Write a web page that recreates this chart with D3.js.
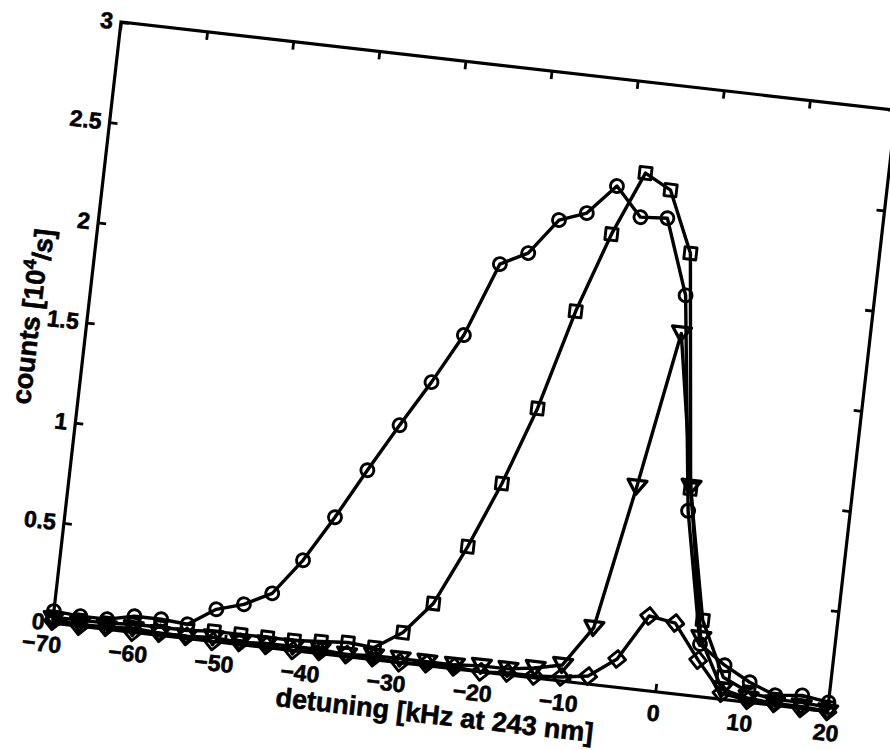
<!DOCTYPE html>
<html><head><meta charset="utf-8">
<script src="https://cdn.jsdelivr.net/npm/d3@7"></script>
<style>body{margin:0;background:#fff}</style>
</head><body>
<svg id="chart" width="890" height="750"></svg>
<script>
const detuning = [-70, -66.9, -63.8, -60.7, -57.6, -54.5, -51.4, -48.3, -45.2, -42.1, -39.0, -35.9, -32.8, -29.7, -26.6, -23.4, -20.3, -17.2, -14.1, -11.0, -7.9, -4.8, -1.7, 1.4, 4.5, 7.6, 10.7, 13.8, 16.9, 20.0];
const circles = [0.06, 0.05, 0.05, 0.08, 0.08, 0.07, 0.16, 0.20, 0.27, 0.45, 0.68, 0.93, 1.17, 1.40, 1.65, 2.02, 2.09, 2.27, 2.32, 2.47, 2.33, 2.34, 1.97, 0.91, 0.26, 0.17, 0.10, 0.05, 0.065, 0.045];
const squares = [0.03, 0.03, 0.03, 0.04, 0.04, 0.04, 0.05, 0.05, 0.05, 0.05, 0.06, 0.07, 0.06, 0.15, 0.31, 0.61, 0.94, 1.33, 1.83, 2.23, 2.55, 2.48, 2.18, 1.02, 0.38, 0.11, 0.05, 0.03, 0.03, 0.02];
const triangles = [0.02, 0.01, 0.01, 0.02, 0.01, 0.01, 0.02, 0.01, 0.02, 0.02, 0.02, 0.01, 0.02, 0.02, 0.02, 0.02, 0.03, 0.03, 0.05, 0.08, 0.28, 1.0, 1.78, 1.03, 0.29, 0.05, 0.02, 0.01, 0.01, 0.0];
const diamonds = [0.01, 0.0, 0.01, 0.0, 0.01, 0.01, 0.0, 0.01, 0.01, 0.0, 0.01, 0.01, 0.01, 0.0, 0.01, 0.01, 0.0, 0.01, 0.01, 0.02, 0.04, 0.14, 0.37, 0.35, 0.18, 0.03, 0.01, 0.01, 0.0, 0.0];
const xTicks = [-70, -60, -50, -40, -30, -20, -10, 0, 10, 20];
const yTicks = [0, 0.5, 1, 1.5, 2, 2.5, 3];

const W = 780, H = 605;
const FONT = "'Liberation Sans', Arial, Helvetica, sans-serif";
const svg = d3.select('#chart');
svg.append('rect').attr('width', 890).attr('height', 750).attr('fill', '#fff');
const g = svg.append('g').attr('transform', 'translate(121,22) rotate(6.5)');

const x = d3.scaleLinear().domain([-70, 20]).range([0, W]);
const y = d3.scaleLinear().domain([0, 3]).range([H, 0]);
const fmt = d3.format('~g');

function styleText(sel) {
  sel.attr('font-family', FONT).attr('font-weight', 'bold').attr('fill', '#000')
     .attr('stroke', '#000').attr('stroke-width', 0.6);
}
function styleAxis(sel, showLabels) {
  sel.select('.domain').remove();
  sel.selectAll('.tick line').attr('stroke', '#000').attr('stroke-width', 2.8);
  styleText(sel.selectAll('.tick text').attr('font-size', 23));
  if (!showLabels) sel.selectAll('.tick text').remove();
}

const xb = g.append('g').attr('transform', `translate(0,${H})`)
  .call(d3.axisBottom(x).tickValues(xTicks).tickSizeInner(-8).tickSizeOuter(0).tickPadding(13).tickFormat(fmt));
styleAxis(xb, true);
xb.selectAll('.tick text').attr('dx', d => d < 0 ? -9 : 0);

const xt = g.append('g')
  .call(d3.axisTop(x).tickValues(xTicks).tickSizeInner(-8).tickSizeOuter(0));
styleAxis(xt, false);

const yl = g.append('g')
  .call(d3.axisLeft(y).tickValues(yTicks).tickSizeInner(-8).tickSizeOuter(0).tickPadding(8).tickFormat(fmt));
styleAxis(yl, true);

const yr = g.append('g').attr('transform', `translate(${W},0)`)
  .call(d3.axisRight(y).tickValues(yTicks).tickSizeInner(-8).tickSizeOuter(0));
styleAxis(yr, false);

g.append('rect').attr('x', 0).attr('y', 0).attr('width', W).attr('height', H)
  .attr('fill', 'none').attr('stroke', '#000').attr('stroke-width', 3.2);

// axis labels
styleText(g.append('text').attr('x', W / 2).attr('y', 655).attr('text-anchor', 'middle')
  .attr('dominant-baseline', 'middle').attr('font-size', 27)
  .text('detuning [kHz at 243 nm]'));

const yt = g.append('text').attr('transform', `translate(-54,${H / 2}) rotate(-90)`)
  .attr('text-anchor', 'middle').attr('dominant-baseline', 'middle').attr('font-size', 27);
styleText(yt);
yt.append('tspan').text('counts [10');
yt.append('tspan').attr('dy', '-0.45em').attr('font-size', 18).text('4');
yt.append('tspan').attr('dy', '0.45em').text('/s]');

// series
const series = [
  { vals: circles, marker: 'circle' },
  { vals: squares, marker: 'square' },
  { vals: triangles, marker: 'triangle' },
  { vals: diamonds, marker: 'diamond' }
];
const line = d3.line().x(d => x(d[0])).y(d => y(d[1]));
const shapes = {
  square: 'M-6,-6L6,-6L6,6L-6,6Z',
  triangle: 'M-9.5,-6.5L9.5,-6.5L0,7.5Z',
  diamond: 'M0,-8.5L8.5,0L0,8.5L-8.5,0Z'
};
series.forEach(s => {
  const pts = detuning.map((d, i) => [d, s.vals[i]]);
  const sg = g.append('g');
  sg.append('path').attr('d', line(pts)).attr('fill', 'none').attr('stroke', '#000')
    .attr('stroke-width', 3.4).attr('stroke-linejoin', 'round');
  const m = sg.selectAll('.m').data(pts).enter();
  if (s.marker === 'circle') {
    m.append('circle').attr('cx', d => x(d[0])).attr('cy', d => y(d[1])).attr('r', 6.5)
      .attr('fill', 'none').attr('stroke', '#000').attr('stroke-width', 2.9);
  } else {
    m.append('path').attr('d', shapes[s.marker])
      .attr('transform', d => `translate(${x(d[0])},${y(d[1])})`)
      .attr('fill', 'none').attr('stroke', '#000').attr('stroke-width', s.marker === 'triangle' ? 3.3 : 2.9)
      .attr('stroke-linejoin', 'round');
  }
});
</script>
</body></html>
